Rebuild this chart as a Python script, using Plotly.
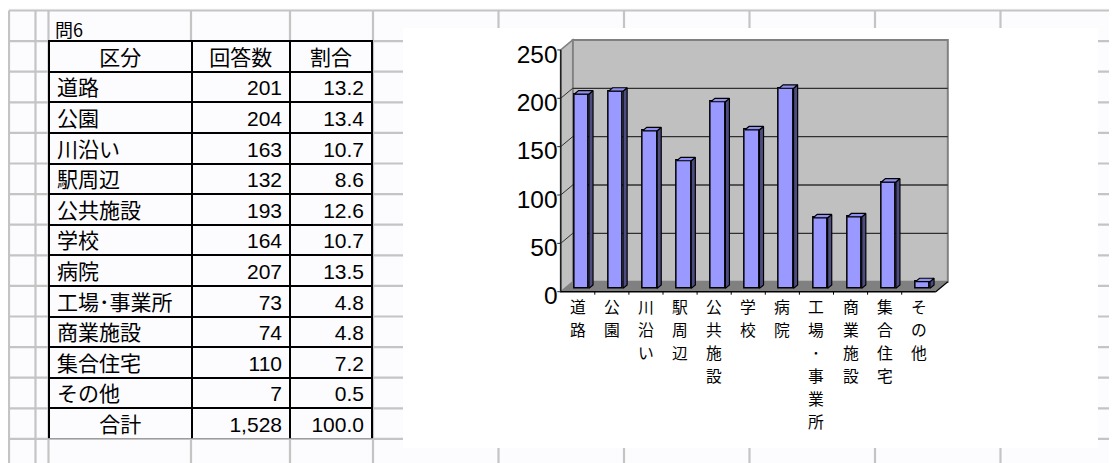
import plotly.graph_objects as go

# ---------------- data ----------------
title_text = "問6"
header = ["区分", "回答数", "割合"]
categories = ["道路", "公園", "川沿い", "駅周辺", "公共施設", "学校", "病院",
              "工場･事業所", "商業施設", "集合住宅", "その他"]
counts = [201, 204, 163, 132, 193, 164, 207, 73, 74, 110, 7]
percents = [13.2, 13.4, 10.7, 8.6, 12.6, 10.7, 13.5, 4.8, 4.8, 7.2, 0.5]
total_label = "合計"
total_pct = 100.0
y_ticks = [0, 50, 100, 150, 200, 250]

# ---------------- page geometry (px, page coordinates) ----------------
W, H = 1117, 463
OFF = 8                         # default body margin of the html page
BG = "#FCFBFE"
GRID = "#C4C4C4"
ROW0, ROW = 10.5, 30.6
col_lines = [9, 35.5, 48.5, 191, 290, 373, 498.5, 624, 749.5, 875, 1000.5]
TABLE_X = (49, 372)
TABLE_TOP = ROW0 + ROW


def fx(x):
    return (x - OFF) / W


def fy(y):
    return 1 - (y - OFF) / H


shapes = []
# spreadsheet grid
k = 0
while ROW0 + k * ROW < H + OFF:
    y = ROW0 + k * ROW
    shapes.append(dict(type="line", xref="paper", yref="paper", layer="below",
                       x0=fx(col_lines[0]), x1=1, y0=fy(y), y1=fy(y),
                       line=dict(color=GRID, width=2.2)))
    k += 1
for x in col_lines:
    shapes.append(dict(type="line", xref="paper", yref="paper", layer="below",
                       x0=fx(x), x1=fx(x), y0=fy(ROW0), y1=0,
                       line=dict(color=GRID, width=2.2)))
# chart area (white)
CH = (403, 28, 1098, 448)
shapes.append(dict(type="rect", xref="paper", yref="paper", layer="below",
                   x0=fx(CH[0]), x1=fx(CH[2]), y0=fy(CH[1]), y1=fy(CH[3]),
                   fillcolor="white", line=dict(width=0)))

# ---------------- 3D chart geometry ----------------
N = len(categories)
YMAX = y_ticks[-1]
X0, Y0 = 560.7, 291.7          # front-left floor corner (page px)
SX, SY = 34.1, 0.967           # px per category / per value unit
DXU, DYU = 12.0 / SX, 10.0 / SY  # wall depth in data units
XR = (-0.15, 11.85)
YR = (-3.3, 265)
xdom = [fx(X0 + XR[0] * SX), fx(X0 + XR[1] * SX)]
ydom = [fy(Y0 - YR[0] * SY), fy(Y0 - YR[1] * SY)]

F0, F1 = 0.33, 0.67            # bar depth fractions
BW = 0.425                     # bar width (category units)
bx = F0 * DXU
by = F0 * DYU
ddx = (F1 - F0) * DXU
ddy = (F1 - F0) * DYU

WALL = "#C0C0C0"
WALL_EDGE = "#808080"
FLOOR = "#808080"


def add(shape):
    shape.update(xref="x", yref="y", layer="below")
    shapes.append(shape)


# back wall
add(dict(type="rect", x0=DXU, x1=N + DXU, y0=DYU, y1=YMAX + DYU,
         fillcolor=WALL, line=dict(color=WALL_EDGE, width=2)))
# side wall
add(dict(type="path",
         path=f"M 0,0 L 0,{YMAX} L {DXU},{YMAX + DYU} L {DXU},{DYU} Z",
         fillcolor=WALL, line=dict(color=WALL_EDGE, width=1.5)))
# floor
add(dict(type="path",
         path=f"M 0,0 L {N},0 L {N + DXU},{DYU} L {DXU},{DYU} Z",
         fillcolor=FLOOR, line=dict(width=0)))
# gridlines on back wall and side wall diagonals
for v in y_ticks[1:-1]:
    add(dict(type="line", x0=DXU, x1=N + DXU, y0=v + DYU, y1=v + DYU,
             line=dict(color="#303030", width=1.3)))
    add(dict(type="line", x0=0, x1=DXU, y0=v, y1=v + DYU,
             line=dict(color="#303030", width=1)))
# value axis line and tick stubs
add(dict(type="line", x0=0, x1=0, y0=0, y1=YMAX, line=dict(color="#202020", width=1.6)))
for v in y_ticks:
    add(dict(type="line", x0=-0.1, x1=0, y0=v, y1=v, line=dict(color="#202020", width=1)))
# floor front edge / right edge
add(dict(type="line", x0=0, x1=N, y0=0, y1=0, line=dict(color="black", width=1.6)))
add(dict(type="line", x0=N, x1=N + DXU, y0=0, y1=DYU, line=dict(color="black", width=1.2)))
# category ticks
for kk in range(1, N):
    add(dict(type="line", x0=kk, x1=kk, y0=0, y1=-3.1, line=dict(color="black", width=1)))

# ---------------- bars ----------------
centers = [i + 0.5 + bx for i in range(N)]
side_x, side_y, top_x, top_y = [], [], [], []
for c, v in zip(centers, counts):
    xl, xr = c - BW / 2, c + BW / 2
    t = by + v
    side_x += [xr, xr + ddx, xr + ddx, xr, xr, None]
    side_y += [by, by + ddy, t + ddy, t, by, None]
    top_x += [xl, xr, xr + ddx, xl + ddx, xl, None]
    top_y += [t, t, t + ddy, t + ddy, t, None]

fig = go.Figure()
fig.add_trace(go.Bar(x=centers, y=counts, base=by, width=BW,
                     marker=dict(color="#9999FF", line=dict(color="black", width=1.5)),
                     hoverinfo="skip", showlegend=False))
fig.add_trace(go.Scatter(x=side_x, y=side_y, mode="lines", fill="toself",
                         fillcolor="#4C4C80", line=dict(color="black", width=1.2),
                         hoverinfo="skip", showlegend=False))
fig.add_trace(go.Scatter(x=top_x, y=top_y, mode="lines", fill="toself",
                         fillcolor="#9090F0", line=dict(color="black", width=1.2),
                         hoverinfo="skip", showlegend=False))

# ---------------- table ----------------
total = sum(counts)
col1 = categories
col2 = [str(c) for c in counts]
col3 = [f"{p:.1f}" for p in percents]
total_row = [total_label, f"{total:,}", f"{total_pct:.1f}"]
tfont = dict(family="Liberation Sans, Noto Sans CJK JP", size=21, color="black")
tline = dict(color="black", width=2)
body_bottom = TABLE_TOP + ROW * (N + 1)
fig.add_trace(go.Table(
    domain=dict(x=[fx(TABLE_X[0]), fx(TABLE_X[1])], y=[fy(body_bottom), fy(TABLE_TOP)]),
    columnwidth=[142.5, 98.5, 82],
    header=dict(values=header, height=ROW, align="center", font=tfont,
                fill=dict(color=BG), line=tline),
    cells=dict(values=[col1, col2, col3], height=ROW, align=["left", "right", "right"],
               font=tfont, fill=dict(color=BG), line=tline),
))
fig.add_trace(go.Table(
    domain=dict(x=[fx(TABLE_X[0]), fx(TABLE_X[1])], y=[fy(body_bottom + ROW), fy(body_bottom)]),
    columnwidth=[142.5, 98.5, 82],
    header=dict(values=total_row, height=ROW, align=["center", "right", "right"], font=tfont,
                fill=dict(color=BG), line=tline),
    cells=dict(values=[[], [], []], height=ROW, fill=dict(color=BG), line=tline),
))

# ---------------- vertical category labels (one character per line) ----------------
LABEL_TOP_PX = 14.8    # first character centre below the floor front edge
LABEL_STEP_PX = 23.0
annotations = [dict(text=title_text, xref="paper", yref="paper", x=fx(53), y=fy(29),
                    xanchor="left", yanchor="middle", showarrow=False,
                    font=dict(family="Noto Sans CJK JP", size=18, color="black"))]
for i, name in enumerate(categories):
    for j, ch in enumerate(name):
        annotations.append(dict(
            text=ch, xref="x", yref="y", x=i + 0.5, y=0,
            yshift=-(LABEL_TOP_PX + j * LABEL_STEP_PX),
            xanchor="center", yanchor="middle", showarrow=False, borderpad=0,
            font=dict(family="Noto Sans CJK JP", size=15.8, color="black")))

fig.update_layout(
    width=W, height=H, margin=dict(l=0, r=0, t=0, b=0),
    paper_bgcolor=BG, plot_bgcolor="white", showlegend=False,
    shapes=shapes, bargap=0, annotations=annotations,
    xaxis=dict(domain=xdom, range=list(XR), showgrid=False, zeroline=False, showline=False,
               showticklabels=False, ticks="", automargin=False, fixedrange=True),
    yaxis=dict(domain=ydom, range=list(YR), showgrid=False, zeroline=False, showline=False,
               tickmode="array", tickvals=y_ticks, ticktext=[str(v) for v in y_ticks],
               ticks="", ticklabelshift=4, ticklabelstandoff=-3,
               automargin=False, fixedrange=True,
               tickfont=dict(family="Liberation Sans", size=24.5, color="black")),
)

fig.write_html("out.html")
